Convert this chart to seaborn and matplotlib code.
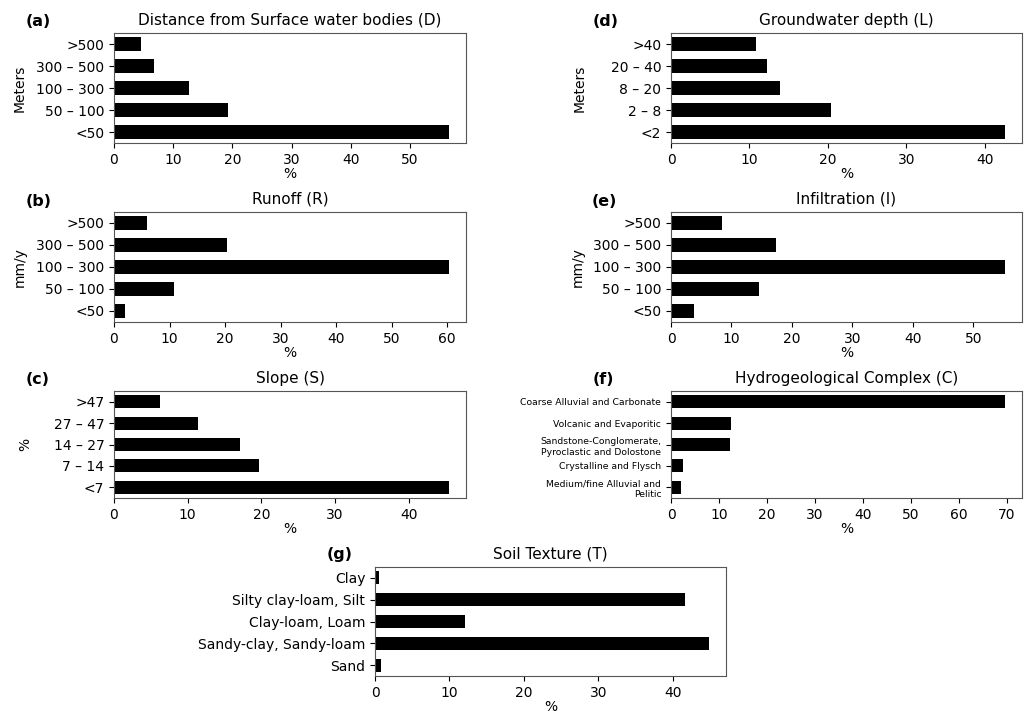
import matplotlib
matplotlib.use("Agg")
import matplotlib.pyplot as plt
import seaborn as sns

# categories listed top -> bottom as they appear
dist_cats = [">500", "300 – 500", "100 – 300", "50 – 100", "<50"]
dist_vals = [4.6, 6.7, 12.7, 19.2, 56.6]

runoff_cats = [">500", "300 – 500", "100 – 300", "50 – 100", "<50"]
runoff_vals = [6.0, 20.3, 60.4, 10.8, 2.0]

slope_cats = [">47", "27 – 47", "14 – 27", "7 – 14", "<7"]
slope_vals = [6.3, 11.4, 17.1, 19.7, 45.5]

gw_cats = [">40", "20 – 40", "8 – 20", "2 – 8", "<2"]
gw_vals = [10.8, 12.2, 13.9, 20.4, 42.6]

infil_cats = [">500", "300 – 500", "100 – 300", "50 – 100", "<50"]
infil_vals = [8.5, 17.4, 55.3, 14.5, 3.8]

hydro_cats = ["Coarse Alluvial and Carbonate", "Volcanic and Evaporitic",
              "Sandstone-Conglomerate,\nPyroclastic and Dolostone",
              "Crystalline and Flysch", "Medium/fine Alluvial and\nPelitic"]
hydro_vals = [69.7, 12.6, 12.4, 2.6, 2.0]

soil_cats = ["Clay", "Silty clay-loam, Silt", "Clay-loam, Loam",
             "Sandy-clay, Sandy-loam", "Sand"]
soil_vals = [0.6, 41.7, 12.1, 44.9, 0.75]

W, H = 1027, 711
fig = plt.figure(figsize=(W / 100, H / 100), dpi=100)


def px_axes(left, top, right, bottom):
    return fig.add_axes([left / W, 1 - bottom / H, (right - left) / W, (bottom - top) / H])


panels = [
    # letter, title, cats, vals, ylabel, box(l,t,r,b), letter pos, ylabel x
    ("(a)", "Distance from Surface water bodies (D)", dist_cats, dist_vals, "Meters",
     (114, 33, 466, 143), (26, 22), -0.247),
    ("(b)", "Runoff (R)", runoff_cats, runoff_vals, "mm/y",
     (114, 212, 466, 322), (26, 202), -0.247),
    ("(c)", "Slope (S)", slope_cats, slope_vals, "%",
     (114, 391, 466, 498), (26, 380), -0.233),
    ("(d)", "Groundwater depth (L)", gw_cats, gw_vals, "Meters",
     (671, 33, 1022, 143), (593, 22), -0.239),
    ("(e)", "Infiltration (I)", infil_cats, infil_vals, "mm/y",
     (671, 212, 1022, 322), (592, 202), -0.247),
    ("(f)", "Hydrogeological Complex (C)", hydro_cats, hydro_vals, None,
     (671, 391, 1022, 498), (593, 380), None),
    ("(g)", "Soil Texture (T)", soil_cats, soil_vals, None,
     (375, 567, 726, 676), (327, 554), None),
]

for letter, title, cats, vals, ylab, box, lpos, ylx in panels:
    ax = px_axes(*box)
    sns.barplot(x=vals, y=cats, color="black", saturation=1, width=0.6, ax=ax)
    ax.set_title(title, fontsize=11)
    ax.set_xlabel("%", fontsize=10, labelpad=0.5)
    ax.tick_params(labelsize=10)
    if ylab:
        ax.set_ylabel(ylab, fontsize=10)
        ax.yaxis.set_label_coords(ylx, 0.5)
    else:
        ax.set_ylabel("")
    if letter == "(f)":
        ax.tick_params(axis="y", labelsize=6.7)
        for t in ax.get_yticklabels():
            t.set_linespacing(1.3)
    for s in ax.spines.values():
        s.set_color("#555555")
    fig.text(lpos[0] / W, 1 - lpos[1] / H, letter, fontsize=11.5,
             fontweight="bold", ha="left", va="center")

fig.savefig("out.png", dpi=100)
